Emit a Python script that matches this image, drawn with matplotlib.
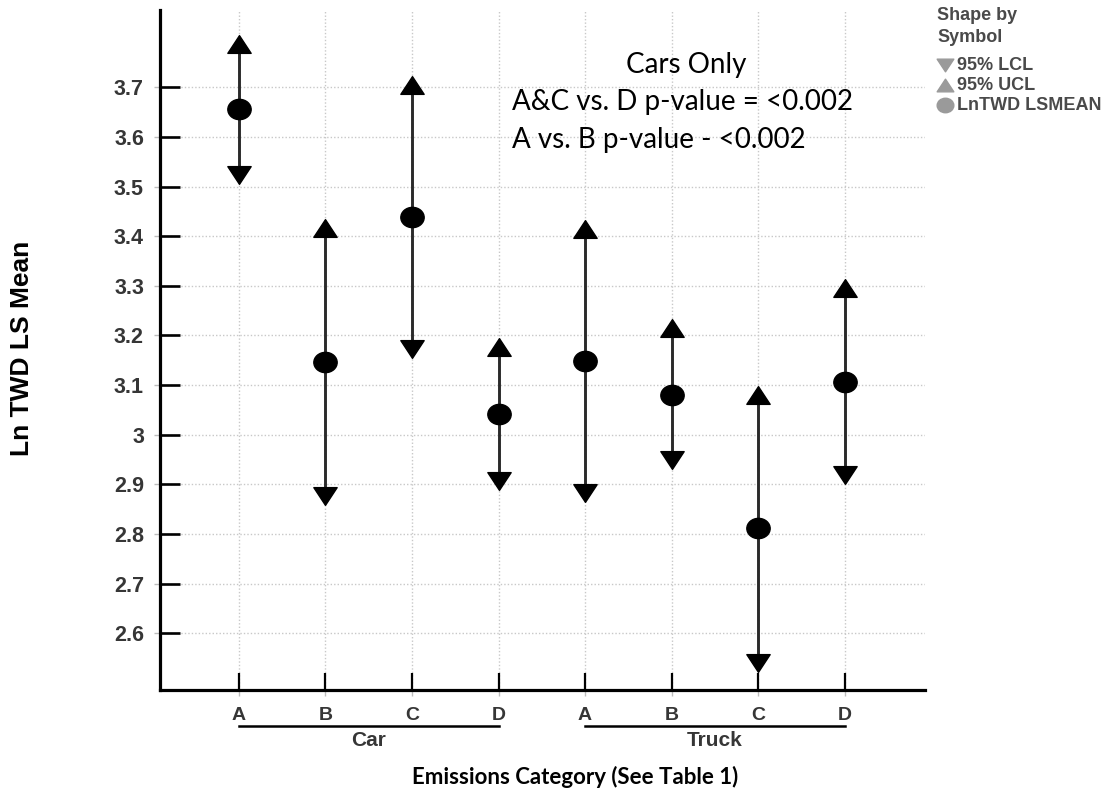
import matplotlib
matplotlib.use("Agg")
import matplotlib.pyplot as plt
import matplotlib.transforms as mtransforms
from matplotlib.path import Path
from matplotlib.lines import Line2D
import numpy as np

# ---------------- data ----------------
categories = ['A', 'B', 'C', 'D', 'A', 'B', 'C', 'D']
groups = ['Car', 'Truck']
group_size = 4
lsmean = [3.656, 3.146, 3.438, 3.042, 3.149, 3.081, 2.812, 3.106]
ucl = [3.788, 3.416, 3.704, 3.176, 3.414, 3.215, 3.081, 3.296]
lcl = [3.523, 2.877, 3.172, 2.907, 2.882, 2.950, 2.540, 2.918]
yticks = [2.6, 2.7, 2.8, 2.9, 3.0, 3.1, 3.2, 3.3, 3.4, 3.5, 3.6, 3.7]
ytick_labels = ['2.6', '2.7', '2.8', '2.9', '3', '3.1', '3.2', '3.3', '3.4', '3.5', '3.6', '3.7']
annotation_lines = ['Cars Only', 'A&C vs. D p-value = <0.002', 'A vs. B p-value - <0.002']
legend_labels = ['95% LCL', '95% UCL', 'LnTWD LSMEAN']

# ---------------- figure ----------------
W, H = 1112, 792
fig = plt.figure(figsize=(W / 100, H / 100), dpi=100)
ax_left, ax_right, ax_top, ax_bottom = 160, 925, 10, 690
ax = fig.add_axes([ax_left / W, 1 - ax_bottom / H, (ax_right - ax_left) / W, (ax_bottom - ax_top) / H])

# custom markers
tri_up = Path([(0, 0.76), (-1, -0.76), (1, -0.76), (0, 0.76)],
              [Path.MOVETO, Path.LINETO, Path.LINETO, Path.CLOSEPOLY])
tri_down = Path([(0, -0.76), (-1, 0.76), (1, 0.76), (0, -0.76)],
                [Path.MOVETO, Path.LINETO, Path.LINETO, Path.CLOSEPOLY])
circ = Path.unit_circle()
ellipse = Path(circ.vertices * np.array([1.0, 0.87]), circ.codes)

x = np.arange(len(categories))
ax.vlines(x, lcl, ucl, color='#2a2a2a', lw=2.1, zorder=3)
ax.plot(x, ucl, linestyle='none', marker=tri_up, markersize=16.8, color='black', zorder=4)
ax.plot(x, lcl, linestyle='none', marker=tri_down, markersize=16.8, color='black', zorder=4)
ax.plot(x, lsmean, linestyle='none', marker=ellipse, markersize=16.8, color='black', zorder=5)

ax.set_xlim(-0.913, 7.93)
ax.set_ylim(2.4858, 3.8557)

ax.set_xticks(x)
ax.set_xticklabels(categories)
ax.set_yticks(yticks)
ax.set_yticklabels(ytick_labels)

# minor (grey, outward) ticks at same positions
ax.xaxis.remove_overlapping_locs = False
ax.yaxis.remove_overlapping_locs = False
ax.set_xticks(x, minor=True)
ax.set_yticks(yticks, minor=True)
ax.tick_params(which='minor', direction='out', length=4.5, width=1, color='#bdbdbd',
               labelleft=False, labelbottom=False)

ax.tick_params(axis='y', which='major', direction='in', length=14.4, width=1.9, color='black',
               pad=11.5, labelsize=15.5, labelcolor='#363636')
ax.tick_params(axis='x', which='major', direction='in', length=12.5, width=1.6, color='black',
               pad=12, labelsize=14, labelcolor='#363636')
for lab in ax.get_xticklabels() + ax.get_yticklabels():
    lab.set_fontfamily('Liberation Sans')
    lab.set_fontweight('bold')

for side in ['top', 'right']:
    ax.spines[side].set_visible(False)
for side in ['left', 'bottom']:
    ax.spines[side].set_linewidth(2.3)
    ax.spines[side].set_color('black')

ax.grid(True, which='major', linestyle=(0, (1, 1.5)), color='#c8c8c8', linewidth=1.0)
ax.set_axisbelow(True)

# group labels with underline
blend = mtransforms.blended_transform_factory(ax.transData, fig.transFigure)
for gi, g in enumerate(groups):
    x0 = gi * group_size
    x1 = x0 + group_size - 1
    line = Line2D([x0, x1], [1 - 726 / H, 1 - 726 / H], transform=blend, color='black',
                  lw=1.8, clip_on=False)
    fig.add_artist(line)
    fig.text((x0 + x1) / 2, 1 - 741 / H, g, transform=blend, ha='center', va='center',
             fontsize=15, fontweight='bold', family='Liberation Sans', color='#363636')

# axis titles
fig.text(575 / W, 1 - 777 / H, 'Emissions Category (See Table 1)', ha='center', va='center',
         fontsize=16, fontweight='bold', family='Lato', color='black')
fig.text(22 / W, 1 - 348 / H, 'Ln TWD LS Mean', ha='center', va='center', rotation=90,
         fontsize=19, fontweight='bold', family='Liberation Sans', color='black')

# annotation
fig.text(686 / W, 1 - 65 / H, annotation_lines[0], ha='center', va='center',
         fontsize=20, family='Lato', color='black')
fig.text(512 / W, 1 - 102 / H, annotation_lines[1], ha='left', va='center',
         fontsize=20, family='Lato', color='black')
fig.text(512 / W, 1 - 140 / H, annotation_lines[2], ha='left', va='center',
         fontsize=20, family='Lato', color='black')

# legend (manual)
leg_color = '#4a4a4a'
fig.text(937 / W, 1 - 16 / H, 'Shape by', ha='left', va='center', fontsize=13,
         fontweight='bold', family='Liberation Sans', color=leg_color)
fig.text(937 / W, 1 - 37 / H, 'Symbol', ha='left', va='center', fontsize=13,
         fontweight='bold', family='Liberation Sans', color=leg_color)
leg_markers = [tri_down, tri_up, ellipse]
leg_y = [65, 85, 105]
for mk, lab, yy in zip(leg_markers, legend_labels, leg_y):
    fig.add_artist(Line2D([945 / W], [1 - yy / H], marker=mk, markersize=12, color='#9a9a9a',
                          linestyle='none', transform=fig.transFigure))
    fig.text(957 / W, 1 - yy / H, lab, ha='left', va='center', fontsize=13,
             fontweight='bold', family='Liberation Sans', color=leg_color)

fig.savefig('out.png', dpi=100)
